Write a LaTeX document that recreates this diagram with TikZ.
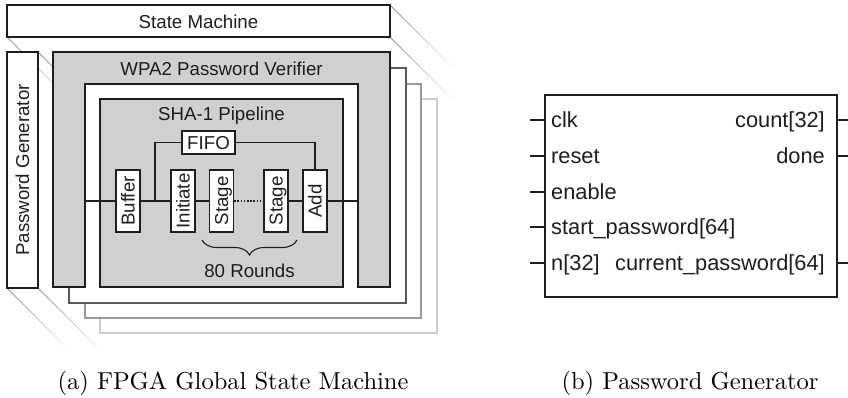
\documentclass[tikz,border=0pt]{standalone}
\usepackage{fontspec}
\usepackage{graphicx}
\newfontfamily\arial{Liberation Sans}
\usetikzlibrary{decorations.pathreplacing,calc}
\definecolor{boxgray}{RGB}{208,208,208}
\definecolor{ink}{RGB}{30,30,30}
\newcommand\fadeline[2]{%
  \foreach \i in {0,...,15}{%
    \pgfmathsetmacro\cc{42*(1-\i/16)}%
    \draw[black!\cc, line width=0.8pt] (#1+4*\i,#2+4*\i) -- ++(4.1,4.1);}}
\begin{document}
\begin{tikzpicture}[x=1pt,y=-1pt,
  box/.style={draw=ink, line width=1.3pt, fill=white},
  grayrect/.style={draw=ink, line width=1.3pt, fill=boxgray},
  lbl/.style={font=\arial\fontsize{18.7}{20}\selectfont, text=ink, inner sep=0pt, text height=13.4pt, text depth=0pt},
  stagebox/.style={draw=ink, line width=1.3pt, fill=white, rotate=90, minimum width=62pt, minimum height=24pt, inner sep=0pt,
     font=\arial\fontsize{18.7}{20}\selectfont, text=ink, text height=13.4pt, text depth=0pt},
  wire/.style={draw=ink, line width=1.1pt},
  pinlbl/.style={font=\arial\fontsize{21.8}{24}\selectfont, text=ink, inner sep=0pt, text height=15.6pt, text depth=0pt},
  caption/.style={inner sep=0pt, anchor=base}]
\useasboundingbox (0,0) rectangle (848,397);

% perspective lines
\fadeline{390}{5}
\fadeline{390}{37}
\fadeline{7}{37}
\fadeline{38}{52}
\fadeline{7}{288}
\fadeline{38}{288}

% stacked frames behind
\draw[draw=black!20, line width=1.2pt, fill=white] (100,99) rectangle (437,333);
\draw[draw=black!40, line width=1.2pt, fill=white] (85,84) rectangle (421,318);
\draw[draw=black!65, line width=1.2pt, fill=white] (69,68) rectangle (406,303);

% state machine
\node[box, minimum width=383pt, minimum height=32pt, inner sep=0pt] (sm) at (198.5,21) {};
\node[lbl] (smlbl) at (198.5,21.5) {State Machine};

% password generator
\node[box, minimum width=31pt, minimum height=236pt, inner sep=0pt] (pg) at (22.5,170) {};
\node[lbl, rotate=90] (pglbl) at (22.5,170) {Password Generator};

% WPA2 verifier
\draw[grayrect] (53,52) rectangle (390,287);
\fill[white] (85,84) rectangle (358,287.6);
\draw[ink, line width=1.3pt] (85,287.6) -- (85,84) -- (358,84) -- (358,287.6);
\node[lbl] (wpalbl) at (221.5,68.5) {WPA2 Password Verifier};

% SHA-1 pipeline
\draw[grayrect] (100,99) rectangle (343,287);
\node[lbl] (shalbl) at (221.5,114) {SHA-1 Pipeline};

% pipeline stages
\coordinate (pin) at (85,201);
\coordinate (pout) at (358,201);
\node[stagebox] (buf) at (128,201) {Buffer};
\node[stagebox] (ini) at (183,201) {Initiate};
\node[stagebox] (st1) at (221.5,201) {Stage};
\node[stagebox] (st2) at (276,201) {Stage};
\node[stagebox] (add) at (315,201) {Add};
\node[draw=ink, line width=1.3pt, fill=white, minimum width=53pt, minimum height=23pt, inner sep=0pt,
  font=\arial\fontsize{18.7}{20}\selectfont, text=ink, text height=13.4pt, text depth=0pt] (fifo) at (208.5,142.5) {FIFO};
\coordinate (split) at (155,201);

\draw[wire] (pin) -- (buf);
\draw[wire] (buf) -- (ini);
\draw[wire] (ini) -- (st1);
\draw[ink, line width=1.1pt, dash pattern=on 1.6pt off 1.6pt] (st1) -- (st2);
\draw[wire] (st2) -- (add);
\draw[wire] (add) -- (pout);
\draw[wire] (split) |- (fifo.west);
\draw[wire] (fifo.east) -| (add);

\draw[ink, line width=1.1pt, decorate, decoration={brace, mirror, amplitude=15pt}] (202,240) -- (297,240);
\node[lbl] (rounds) at (249.5,271) {80 Rounds};

% password generator module
\node[draw=ink, line width=1.3pt, minimum width=292pt, minimum height=202pt, inner sep=0pt] (mod) at (691,196) {};
\foreach \n/\y/\t in {clk/120/clk, rst/156/reset, en/192/enable, sp/227/start\_password[64], nn/263/n[32]}{
  \coordinate (i\n) at (530,\y);
  \draw[wire] (i\n) -- (i\n -| mod.west);
  \node[pinlbl, anchor=west] (l\n) at (551,\y) {\t};
}
\foreach \n/\y/\t in {cnt/120/count[32], dn/156/done, cp/263/current\_password[64]}{
  \coordinate (o\n) at (848,\y);
  \draw[wire] (o\n -| mod.east) -- (o\n);
  \node[pinlbl, anchor=east] (l\n) at (825,\y) {\t};
}

% captions
\node[caption] (capa) at (233,389) {\scalebox{2.45}{(a) FPGA Global State Machine}};
\node[caption] (capb) at (690,389) {\scalebox{2.45}{(b) Password Generator}};
\end{tikzpicture}
\end{document}
